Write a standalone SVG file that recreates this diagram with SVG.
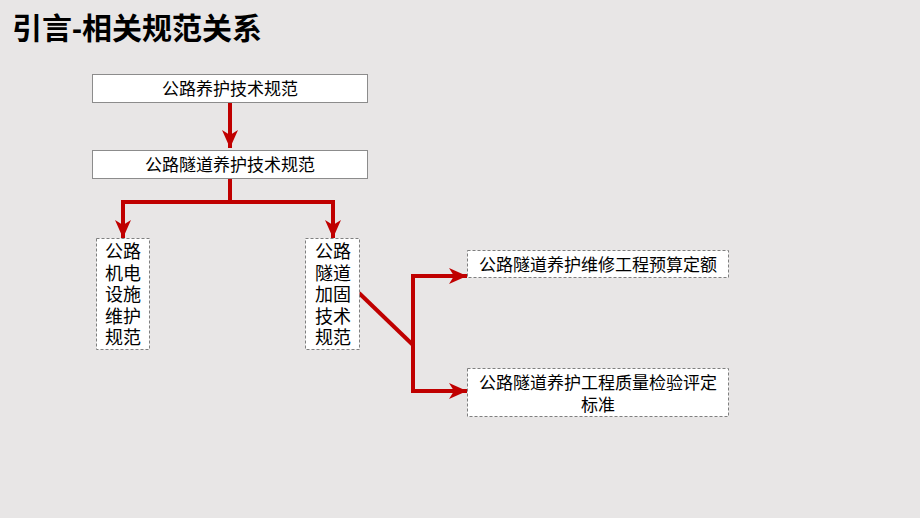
<svg xmlns="http://www.w3.org/2000/svg" width="920" height="518" viewBox="0 0 920 518">
<style>
.bg{fill:#e8e6e6}
.solid{fill:#fff;stroke:#8c8c8c;stroke-width:1}
.dash{fill:#fff;stroke:#7f7f7f;stroke-width:1;stroke-dasharray:3,2}
.t{font-family:"Liberation Sans","Noto Sans CJK SC",sans-serif;font-size:17px;fill:#000;text-anchor:middle}
.v{font-family:"Liberation Sans","Noto Sans CJK SC",sans-serif;font-size:18px;fill:#000;text-anchor:middle}
.s{font-family:"Liberation Serif","Noto Sans CJK SC",serif;font-size:17px;fill:#000;text-anchor:middle}
.c{fill:none;stroke:#c00000;stroke-width:4;stroke-linejoin:miter}
</style>
<defs>
<marker id="ah" markerUnits="userSpaceOnUse" markerWidth="20" markerHeight="20" refX="18" refY="8" orient="auto" viewBox="0 0 20 16">
<path d="M0,0 L18,8 L0,16 L5,8 Z" fill="#c00000"/>
</marker>
</defs>
<rect class="bg" x="0" y="0" width="920" height="518"/>
<text x="12" y="39" font-family="Liberation Sans,'Noto Sans CJK SC',sans-serif" font-size="30" font-weight="bold" fill="#000">引言-相关规范关系</text>
<g id="connectors">
<path class="c" d="M230,102 L230,148" marker-end="url(#ah)"/>
<path class="c" d="M230,178 L230,202 L123,202 L123,238" marker-end="url(#ah)"/>
<path class="c" d="M230,202 L333,202 L333,238" marker-end="url(#ah)"/>
<path class="c" d="M359,293 L413,345"/>
<path class="c" d="M413,345 L413,276 L467,276" marker-end="url(#ah)"/>
<path class="c" d="M413,345 L413,391 L467,391" marker-end="url(#ah)"/>
</g>
<g id="n1">
<rect class="solid" x="92.5" y="74.5" width="275" height="28"/>
<text class="t" x="230" y="94.5">公路养护技术规范</text>
</g>
<g id="n2">
<rect class="solid" x="92.5" y="150.5" width="275" height="28"/>
<text class="t" x="230" y="170.5">公路隧道养护技术规范</text>
</g>
<g id="n3">
<rect class="dash" x="96.5" y="238.5" width="53" height="111"/>
<text class="v" x="123" y="258">公路</text>
<text class="v" x="123" y="279.5">机电</text>
<text class="v" x="123" y="301">设施</text>
<text class="v" x="123" y="322.5">维护</text>
<text class="v" x="123" y="344">规范</text>
</g>
<g id="n4">
<rect class="dash" x="305.5" y="238.5" width="54" height="111"/>
<text class="v" x="333" y="258">公路</text>
<text class="v" x="333" y="279.5">隧道</text>
<text class="v" x="333" y="301">加固</text>
<text class="v" x="333" y="322.5">技术</text>
<text class="v" x="333" y="344">规范</text>
</g>
<g id="n5">
<rect class="dash" x="467.5" y="250.5" width="261" height="27"/>
<text class="s" x="598" y="270.5">公路隧道养护维修工程预算定额</text>
</g>
<g id="n6">
<rect class="dash" x="467.5" y="368.5" width="261" height="48"/>
<text class="s" x="598" y="388.5">公路隧道养护工程质量检验评定</text>
<text class="s" x="598" y="410.5">标准</text>
</g>
</svg>
